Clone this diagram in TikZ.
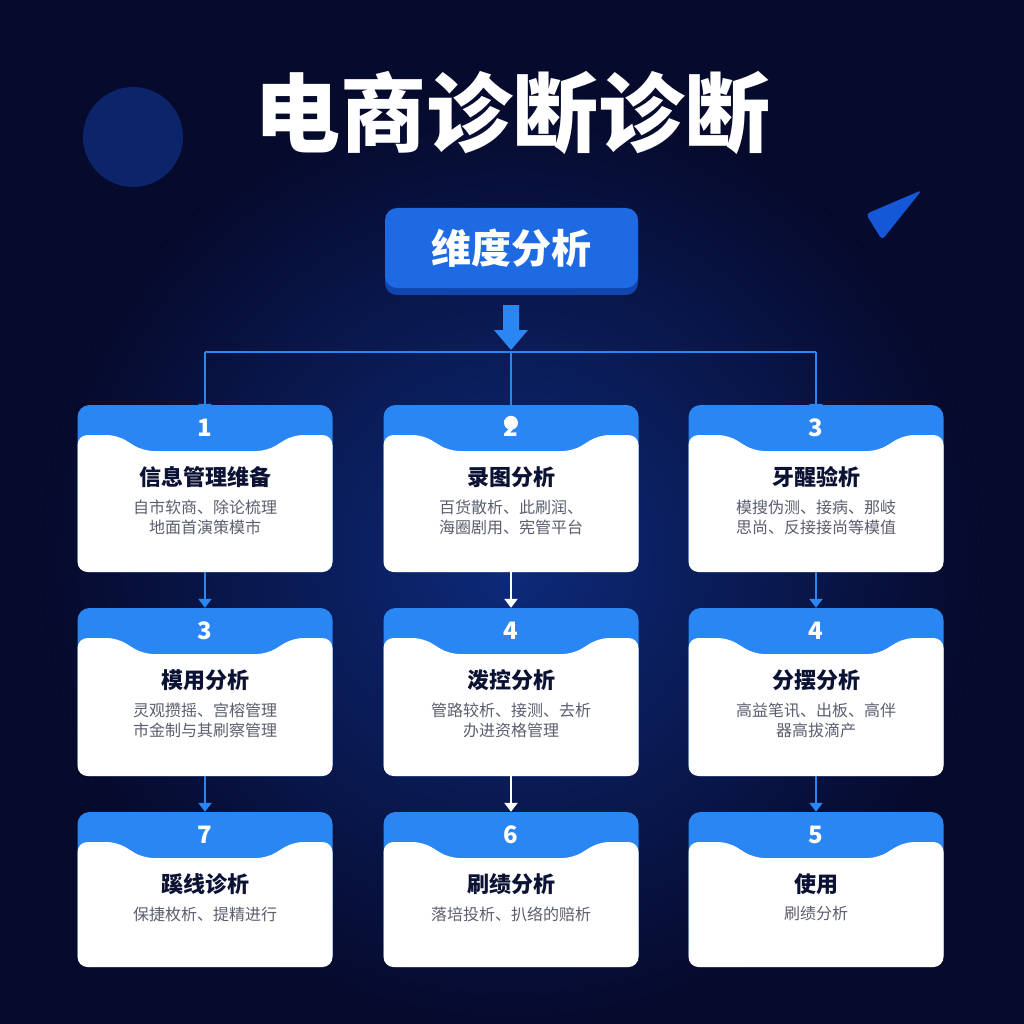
\documentclass[tikz,border=0pt]{standalone}
\usepackage{fontspec}
\setmainfont{Noto Sans CJK SC}
\usetikzlibrary{positioning}
\usetikzlibrary{calc}
\usetikzlibrary{arrows.meta}
\definecolor{bgdark}{HTML}{060A2C}
\definecolor{bgglow}{HTML}{0D2A7A}
\definecolor{cardblue}{HTML}{2A86F2}
\definecolor{deepblue}{HTML}{1458D8}
\definecolor{inktext}{HTML}{0B1233}
\definecolor{greytext}{HTML}{5A5F6E}
\tikzset{
  cardbox/.style={fill=cardblue, rounded corners=12, minimum width=255, inner sep=0},
  numtext/.style={text=white, font=\fontsize{24}{24}\selectfont\bfseries},
  titletext/.style={text=inktext, font=\fontsize{22}{22}\selectfont\bfseries},
  desctext/.style={text=greytext, font=\fontsize{16}{20}\selectfont, align=center},
  link/.style={draw=cardblue, line width=2.2, -{Triangle[length=9,width=13]}},
  wlink/.style={draw=white, line width=2.2, -{Triangle[length=9,width=13]}}
}
% card: name, x, top, height, number, title, text
\newcommand{\card}[7]{
  \node[cardbox, minimum height=#4] (#1) at (#2,#3+#4/2) {};
  \fill[white, rounded corners=10] (#2-127.5,#3+#4) -- (#2-127.5,#3+30) -- (#2-88,#3+30)
    -- (#2-62,#3+46) -- (#2+62,#3+46) -- (#2+88,#3+30) -- (#2+127.5,#3+30) -- (#2+127.5,#3+#4) -- cycle;
  \node[numtext] (#1n) at (#2,#3+23) {#5};
  \node[titletext] (#1t) at (#2,#3+72) {#6};
  \node[desctext, anchor=north] (#1d) at (#2,#3+91) {#7};
}
\begin{document}
\begin{tikzpicture}[x=1pt, y=-1pt]
  \useasboundingbox (0,0) rectangle (1024,1024);
  \fill[bgdark] (0,0) rectangle (1024,1024);
  \fill[inner color=bgglow, outer color=bgdark] (512,560) circle (470);
  \fill[bgglow!80!bgdark] (133,137) circle (50);
  \fill[deepblue, rounded corners=4] (866,214) -- (922,190) -- (882,240) -- cycle;

  \node[text=white, font=\fontsize{86}{86}\selectfont\bfseries] (head) at (512,113) {电商诊断诊断};

  \fill[deepblue!80!black, rounded corners=12] (385,212) rectangle (638,295);
  \node[fill=deepblue!60!cardblue, rounded corners=12, minimum width=253, minimum height=80,
    text=white, font=\fontsize{40}{40}\selectfont\bfseries] (dim) at (511.5,248) {维度分析};

  \card{c1}{205}{405}{167}{1}{信息管理维备}{自市软商、除论梳理\\地面首演策模市}
  \card{c2}{511}{405}{167}{2}{录图分析}{百货散析、此刷润、\\海圈剧用、宪管平台}
  \card{c3}{816}{405}{167}{3}{牙醒验析}{模搜伪测、接病、那岐\\思尚、反接接尚等模值}
  \card{c4}{205}{608}{168}{3}{模用分析}{灵观攒摇、宫榕管理\\市金制与其刷察管理}
  \card{c5}{511}{608}{168}{4}{泼控分析}{管路较析、接测、去析\\办进资格管理}
  \card{c6}{816}{608}{168}{4}{分摆分析}{高益笔讯、出板、高伴\\器高拔滴产}
  \card{c7}{205}{812}{155}{7}{蹊线诊析}{保捷枚析、提精进行}
  \card{c8}{511}{812}{155}{6}{刷绩分析}{落培投析、扒络的赔析}
  \card{c9}{816}{812}{155}{5}{使用}{刷绩分析}

  % block arrow under the button
  \fill[cardblue] (503,305) -- (519,305) -- (519,330) -- (528,330) -- (511,350) -- (494,330) -- (503,330) -- cycle;
  \coordinate (hub) at (511,352);
  \draw[cardblue, line width=2.2] (c1.north |- hub) -- (c3.north |- hub);
  \draw[link] (c1.north |- hub) -- ([yshift=-8]c1.north);
  \draw[link] (c3.north |- hub) -- ([yshift=-8]c3.north);
  \draw[cardblue, line width=2.2] (hub) -- ([yshift=-16]c2.north);
  \fill[white] ([yshift=-18]c2.north) circle (7);

  \draw[link] (c1.south) -- (c4.north);
  \draw[wlink] (c2.south) -- (c5.north);
  \draw[link] (c3.south) -- (c6.north);
  \draw[link] (c4.south) -- (c7.north);
  \draw[wlink] (c5.south) -- (c8.north);
  \draw[link] (c6.south) -- (c9.north);
\end{tikzpicture}
\end{document}
